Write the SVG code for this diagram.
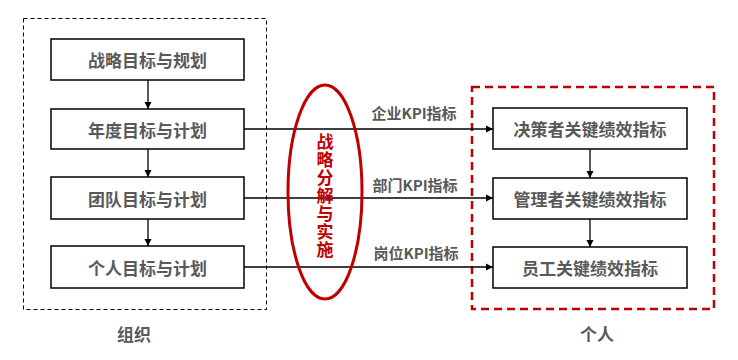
<svg xmlns="http://www.w3.org/2000/svg" width="738" height="360" viewBox="0 0 738 360">
<defs>
<marker id="ah" markerWidth="8" markerHeight="8" refX="7" refY="4" orient="auto" markerUnits="userSpaceOnUse">
<path d="M0,0.5 L7,4 L0,7.5 Z" fill="#000"/>
</marker>
<style>
.box{fill:#fff;stroke:#000;stroke-width:1.5}
.t{font-family:"Noto Sans CJK SC","Liberation Sans",sans-serif;font-weight:bold;fill:#595959;text-anchor:middle;dominant-baseline:central}
.bt{font-size:17px}
.lbl{font-size:15px}
.c{stroke:#000;stroke-width:1.3;fill:none;marker-end:url(#ah)}
</style>
</defs>
<rect width="738" height="360" fill="#fff"/>
<g id="org-frame">
<rect x="23.5" y="18.5" width="243" height="291" fill="none" stroke="#000" stroke-width="1" stroke-dasharray="4,3"/>
<text class="t bt" x="134" y="333">组织</text>
</g>
<g id="ind-frame">
<rect x="472" y="87" width="242" height="222" fill="none" stroke="#C00000" stroke-width="2.5" stroke-dasharray="8,5"/>
<text class="t bt" x="597" y="333">个人</text>
</g>
<g id="connectors">
<line class="c" x1="148" y1="80" x2="148" y2="109"/>
<line class="c" x1="148" y1="149" x2="148" y2="177"/>
<line class="c" x1="148" y1="219" x2="148" y2="246"/>
<line class="c" x1="590" y1="149" x2="590" y2="178"/>
<line class="c" x1="590" y1="219" x2="590" y2="247"/>
<line class="c" x1="244" y1="129" x2="493" y2="129"/>
<line class="c" x1="244" y1="198" x2="493" y2="198"/>
<line class="c" x1="244" y1="267" x2="493" y2="267"/>
<text class="t lbl" x="414" y="112">企业KPI指标</text>
<text class="t lbl" x="415" y="184">部门KPI指标</text>
<text class="t lbl" x="416" y="252">岗位KPI指标</text>
</g>
<g id="strategy">
<ellipse cx="325" cy="192" rx="37" ry="107" fill="none" stroke="#C00000" stroke-width="3"/>
<text x="325" y="196" writing-mode="vertical-rl" letter-spacing="1" font-family="'Noto Sans CJK SC',sans-serif" font-weight="bold" font-size="17" fill="#C00000" text-anchor="middle">战略分解与实施</text>
</g>
<g id="n1"><rect class="box" x="51" y="39" width="193" height="41"/><text class="t bt" x="147.5" y="59.5">战略目标与规划</text></g>
<g id="n2"><rect class="box" x="51" y="109" width="193" height="40"/><text class="t bt" x="147.5" y="129">年度目标与计划</text></g>
<g id="n3"><rect class="box" x="51" y="177" width="193" height="42"/><text class="t bt" x="147.5" y="198">团队目标与计划</text></g>
<g id="n4"><rect class="box" x="51" y="246" width="193" height="42"/><text class="t bt" x="147.5" y="267">个人目标与计划</text></g>
<g id="r1"><rect class="box" x="493" y="108" width="194" height="41"/><text class="t bt" x="590" y="128.5">决策者关键绩效指标</text></g>
<g id="r2"><rect class="box" x="493" y="178" width="194" height="41"/><text class="t bt" x="590" y="198.5">管理者关键绩效指标</text></g>
<g id="r3"><rect class="box" x="493" y="247" width="194" height="41"/><text class="t bt" x="590" y="267.5">员工关键绩效指标</text></g>
</svg>
